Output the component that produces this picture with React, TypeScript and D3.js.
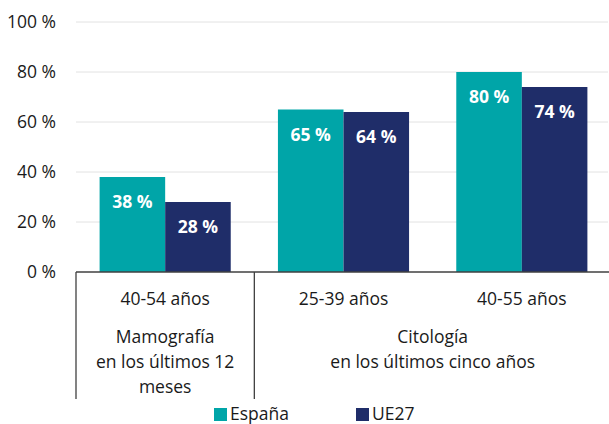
import { useEffect, useRef } from "react";
import * as d3 from "d3";

const ageGroups = ["40-54 años", "25-39 años", "40-55 años"];
const espana = [38, 65, 80];
const ue27 = [28, 64, 74];
const seriesNames = ["España", "UE27"];
const yTicks = [0, 20, 40, 60, 80, 100];
const testGroups = [
  { lines: ["Mamografía", "en los últimos 12", "meses"], from: 0, to: 0 },
  { lines: ["Citología", "en los últimos cinco años"], from: 1, to: 2 },
];

const W = 609;
const H = 424;
const colors = ["#00A5A8", "#1F2D69"];

export default function App() {
  const svgRef = useRef<SVGSVGElement>(null);

  useEffect(() => {
    const svg = d3.select(svgRef.current);
    svg.selectAll("*").remove();
    const font = "'Open Sans', sans-serif";
    const fs = 17.5;

    const left = 76;
    const right = 611;
    const x = d3.scaleBand().domain(ageGroups).range([left, right]).padding(0);
    const inner = d3
      .scaleBand()
      .domain(seriesNames)
      .range([0, x.bandwidth()])
      .paddingOuter(0.36)
      .paddingInner(0);
    const y = d3.scaleLinear().domain([0, 100]).range([272, 22]);

    // gridlines + y labels
    svg
      .append("g")
      .selectAll("line")
      .data(yTicks.filter((t) => t > 0))
      .enter()
      .append("line")
      .attr("x1", left)
      .attr("x2", 608)
      .attr("y1", (d) => y(d))
      .attr("y2", (d) => y(d))
      .attr("stroke", "#e2e2e2")
      .attr("stroke-width", 1);

    svg
      .append("g")
      .selectAll("text")
      .data(yTicks)
      .enter()
      .append("text")
      .attr("x", 56)
      .attr("y", (d) => y(d) + 6)
      .attr("text-anchor", "end")
      .attr("font-family", font)
      .attr("font-size", fs)
      .attr("fill", "#1a1a1a")
      .text((d) => `${d} %`);

    // bars
    const values = [espana, ue27];
    seriesNames.forEach((s, si) => {
      const g = svg.append("g");
      g.selectAll("rect")
        .data(values[si])
        .enter()
        .append("rect")
        .attr("x", (d, i) => x(ageGroups[i])! + inner(s)!)
        .attr("y", (d) => y(d))
        .attr("width", inner.bandwidth())
        .attr("height", (d) => y(0) - y(d))
        .attr("fill", colors[si]);
      g.selectAll("text")
        .data(values[si])
        .enter()
        .append("text")
        .attr("x", (d, i) => x(ageGroups[i])! + inner(s)! + inner.bandwidth() / 2)
        .attr("y", (d) => y(d) + 31)
        .attr("text-anchor", "middle")
        .attr("font-family", font)
        .attr("font-size", fs)
        .attr("font-weight", "bold")
        .attr("fill", "#ffffff")
        .text((d) => `${d} %`);
    });

    // baseline
    svg
      .append("line")
      .attr("x1", left)
      .attr("x2", right)
      .attr("y1", y(0))
      .attr("y2", y(0))
      .attr("stroke", "#404040")
      .attr("stroke-width", 1.3);

    // category labels
    svg
      .append("g")
      .selectAll("text")
      .data(ageGroups)
      .enter()
      .append("text")
      .attr("x", (d) => x(d)! + x.bandwidth() / 2)
      .attr("y", 305)
      .attr("text-anchor", "middle")
      .attr("font-family", font)
      .attr("font-size", fs)
      .attr("fill", "#1a1a1a")
      .text((d) => d);

    // group separators
    const seps = [left, x(ageGroups[1])!];
    svg
      .append("g")
      .selectAll("line")
      .data(seps)
      .enter()
      .append("line")
      .attr("x1", (d) => d)
      .attr("x2", (d) => d)
      .attr("y1", y(0))
      .attr("y2", 399)
      .attr("stroke", "#404040")
      .attr("stroke-width", 1.3);

    // group labels
    testGroups.forEach((grp) => {
      const cx =
        (x(ageGroups[grp.from])! + x(ageGroups[grp.to])! + x.bandwidth()) / 2;
      const t = svg
        .append("text")
        .attr("text-anchor", "middle")
        .attr("font-family", font)
        .attr("font-size", fs)
        .attr("fill", "#1a1a1a");
      grp.lines.forEach((ln, i) => {
        t.append("tspan").attr("x", cx).attr("y", 343 + i * 25).text(ln);
      });
    });

    // legend
    const legendX = [214, 356];
    const legend = svg
      .selectAll(".legend")
      .data(seriesNames)
      .enter()
      .append("g")
      .attr("class", "legend")
      .attr("transform", (d, i) => `translate(${legendX[i]}, 0)`);
    legend
      .append("rect")
      .attr("x", 0)
      .attr("y", 408)
      .attr("width", 13)
      .attr("height", 13)
      .attr("fill", (d, i) => colors[i]);
    legend
      .append("text")
      .attr("x", 16)
      .attr("y", 420)
      .attr("font-family", font)
      .attr("font-size", fs)
      .attr("fill", "#1a1a1a")
      .text((d) => d);
  }, []);

  return (
    <svg
      ref={svgRef}
      width={W}
      height={H}
      style={{ position: "absolute", left: 0, top: 0 }}
    ></svg>
  );
}
